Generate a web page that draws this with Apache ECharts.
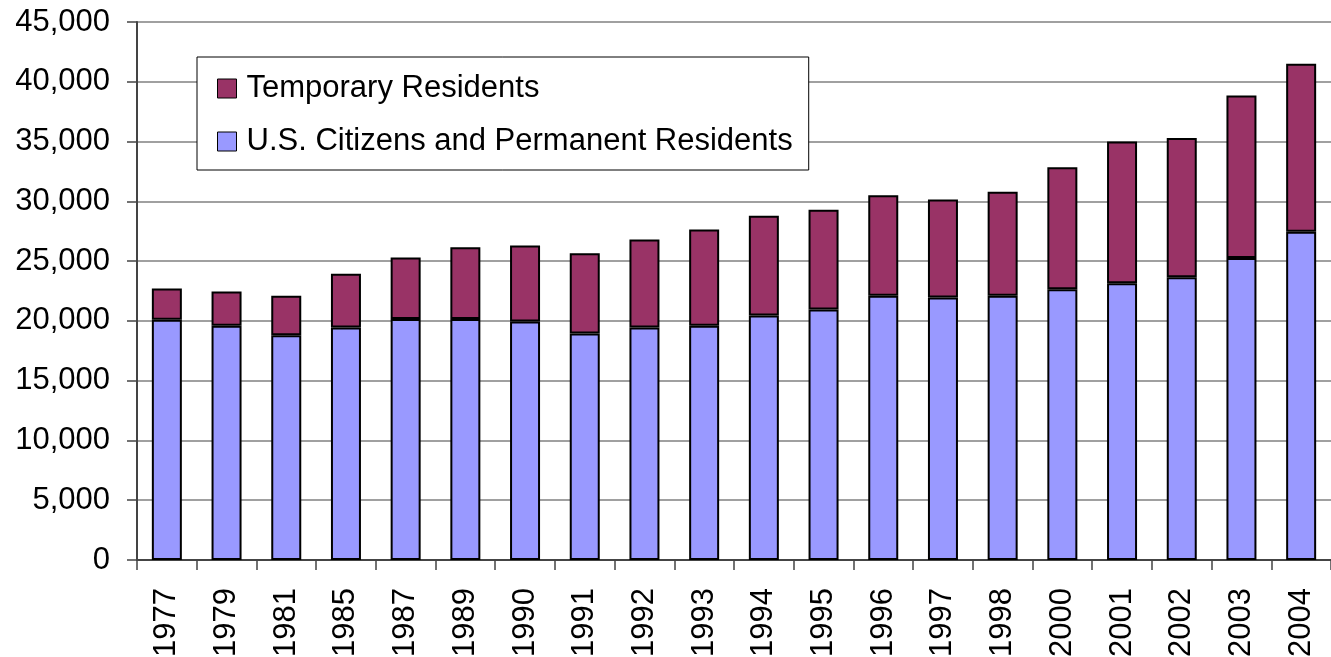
<!DOCTYPE html>
<html>
<head>
<meta charset="utf-8">
<script src="https://cdn.jsdelivr.net/npm/echarts@6/dist/echarts.min.js"></script>
<style>
  html, body { margin: 0; padding: 0; background: #fff; }
  #main { width: 1331px; height: 657px; }
</style>
</head>
<body>
<div id="main"></div>
<script>
// years on the x axis
var years = ['1977', '1979', '1981', '1985', '1987', '1989', '1990', '1991', '1992', '1993',
  '1994', '1995', '1996', '1997', '1998', '2000', '2001', '2002', '2003', '2004'];
// bottom part of each bar
var citizens = [20100, 19600, 18800, 19450, 20150, 20150, 19950, 18950, 19450, 19600,
  20450, 20950, 22100, 21950, 22100, 22650, 23150, 23650, 25250, 27450];
// bar totals
var totals = [22700, 22450, 22100, 23950, 25300, 26150, 26300, 25650, 26800, 27650,
  28800, 29300, 30500, 30150, 30800, 32850, 35000, 35300, 38850, 41500];
// temporary = total - citizens
var temporary = [];
for (var i = 0; i < totals.length; i++) {
  temporary.push(totals[i] - citizens[i]);
}

var font = 'Liberation Sans, Arial, sans-serif';
var chart = echarts.init(document.getElementById('main'));

var option = {
  animation: false,
  grid: { left: 137, right: 0, top: 22, bottom: 97, outerBoundsMode: 'none', containLabel: false },
  legend: {
    orient: 'vertical',
    left: 197,
    top: 57,
    padding: [16, 16, 13, 20],
    itemGap: 22,
    itemWidth: 19,
    itemHeight: 19,
    icon: 'rect',
    borderColor: '#000',
    borderWidth: 1,
    backgroundColor: '#fff',
    data: ['Temporary Residents', 'U.S. Citizens and Permanent Residents'],
    textStyle: { fontFamily: font, fontSize: 31, color: '#000', padding: [0, 0, 0, 5] },
    itemStyle: { borderColor: '#000', borderWidth: 1 }
  },
  xAxis: {
    type: 'category',
    data: years,
    boundaryGap: true,
    axisLine: { lineStyle: { color: '#444', width: 2 } },
    axisTick: { show: true, length: 10, lineStyle: { color: '#444', width: 1.5 } },
    axisLabel: { rotate: 90, margin: 28, fontFamily: font, fontSize: 31, color: '#000' }
  },
  yAxis: {
    type: 'value',
    min: 0,
    max: 45000,
    interval: 5000,
    axisLine: { show: true, lineStyle: { color: '#444', width: 2 } },
    axisTick: { show: true, length: 10, lineStyle: { color: '#444', width: 1.5 } },
    splitLine: { lineStyle: { color: '#808080', width: 1.5 } },
    axisLabel: {
      margin: 27,
      fontFamily: font,
      fontSize: 31,
      color: '#000',
      formatter: function (v) { return v.toLocaleString('en-US'); }
    }
  },
  series: [
    {
      name: 'U.S. Citizens and Permanent Residents',
      type: 'bar',
      stack: 'all',
      barWidth: 30,
      data: citizens,
      itemStyle: { color: '#9999FF', borderColor: '#000', borderWidth: 2 }
    },
    {
      name: 'Temporary Residents',
      type: 'bar',
      stack: 'all',
      barWidth: 30,
      data: temporary,
      itemStyle: { color: '#993366', borderColor: '#000', borderWidth: 2 }
    }
  ]
};

chart.setOption(option);
</script>
</body>
</html>
